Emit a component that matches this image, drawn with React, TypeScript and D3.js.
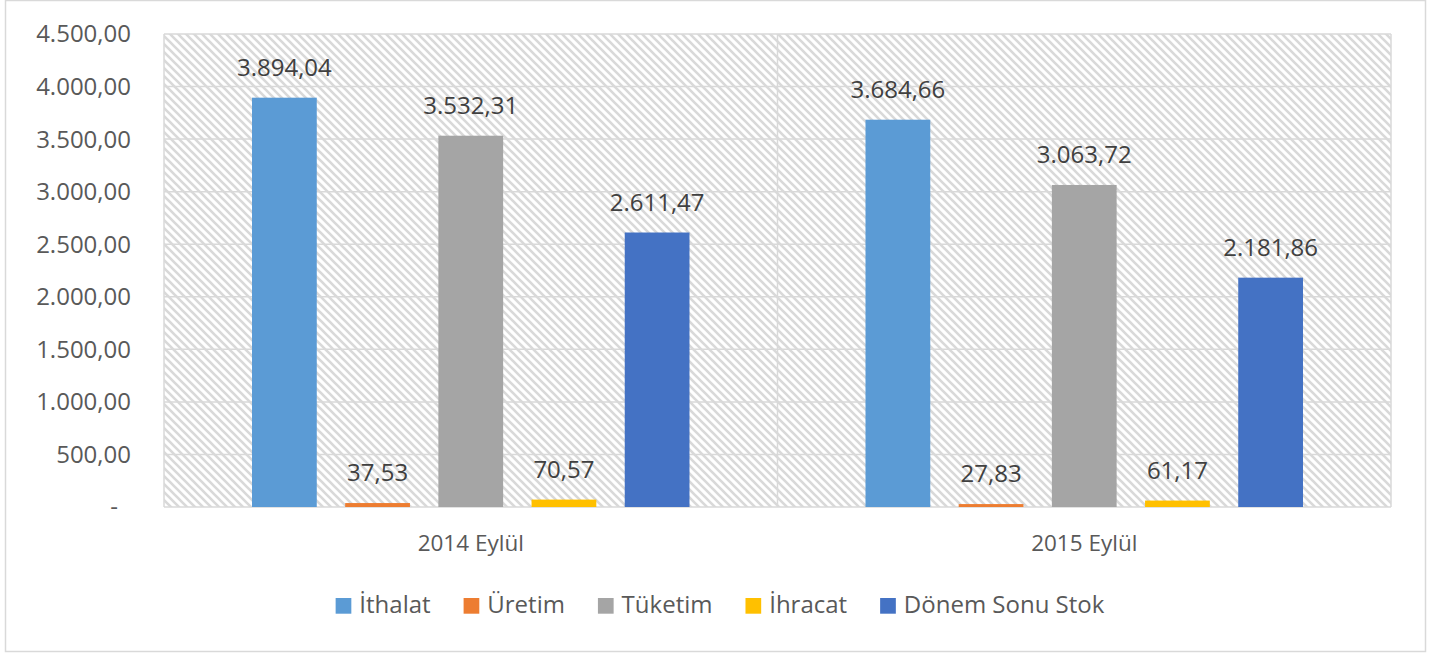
import React, { useEffect, useRef } from "react";
import * as d3 from "d3";

const categories = ["2014 Eylül", "2015 Eylül"];
const seriesNames = ["İthalat", "Üretim", "Tüketim", "İhracat", "Dönem Sonu Stok"];
const seriesColors = ["#5B9BD5", "#ED7D31", "#A5A5A5", "#FFC000", "#4472C4"];
const values2014 = [3894.04, 37.53, 3532.31, 70.57, 2611.47];
const values2015 = [3684.66, 27.83, 3063.72, 61.17, 2181.86];
const yTicks = [0, 500, 1000, 1500, 2000, 2500, 3000, 3500, 4000, 4500];

const W = 1441;
const H = 655;
const FONT = "'Open Sans', 'Liberation Sans', sans-serif";

const fmt = (v: number) => {
  const s = v.toFixed(2);
  const [i, d] = s.split(".");
  const ii = i.replace(/\B(?=(\d{3})+(?!\d))/g, ".");
  return ii + "," + d;
};

export default function App() {
  const ref = useRef<SVGSVGElement>(null);
  useEffect(() => {
    const svg = d3.select(ref.current);
    svg.selectAll("*").remove();
    const table = [values2014, values2015];

    const m = { left: 164, right: 1391, top: 34, bottom: 507 };

    const defs = svg.append("defs");
    const pat = defs
      .append("pattern")
      .attr("id", "hatch")
      .attr("patternUnits", "userSpaceOnUse")
      .attr("width", 8)
      .attr("height", 8);
    pat.append("rect").attr("width", 8).attr("height", 8).attr("fill", "#fff");
    pat
      .append("path")
      .attr("d", "M-2,-2 L10,10 M-2,6 L2,10 M6,-2 L10,2")
      .attr("stroke", "#d9d9d9")
      .attr("stroke-width", 2.6);

    // outer border
    svg
      .append("rect")
      .attr("x", 5.5)
      .attr("y", 0.5)
      .attr("width", 1420)
      .attr("height", 651)
      .attr("fill", "#fff")
      .attr("stroke", "#d9d9d9")
      .attr("stroke-width", 1.5);

    const y = d3.scaleLinear().domain([0, 4500]).range([m.bottom, m.top]);
    const x0 = d3.scaleBand<string>().domain(categories).range([m.left, m.right]).padding(0);
    const x1 = d3
      .scaleBand<string>()
      .domain(seriesNames)
      .range([88, x0.bandwidth() - 88])
      .paddingInner(0.305)
      .paddingOuter(0);

    // plot area hatch
    svg
      .append("rect")
      .attr("x", m.left)
      .attr("y", m.top)
      .attr("width", m.right - m.left)
      .attr("height", m.bottom - m.top)
      .attr("fill", "url(#hatch)");

    // gridlines
    svg
      .append("g")
      .selectAll("line")
      .data(yTicks)
      .join("line")
      .attr("x1", m.left)
      .attr("x2", m.right)
      .attr("y1", (d) => y(d))
      .attr("y2", (d) => y(d))
      .attr("stroke", "#d9d9d9")
      .attr("stroke-width", 1.5);

    // vertical grid lines at category boundaries
    const vb = [m.left, ...categories.map((c) => (x0(c) as number) + x0.bandwidth())];
    svg
      .append("g")
      .selectAll("line")
      .data(vb)
      .join("line")
      .attr("x1", (d) => d)
      .attr("x2", (d) => d)
      .attr("y1", m.top)
      .attr("y2", m.bottom)
      .attr("stroke", "#d9d9d9")
      .attr("stroke-width", 1.5);

    // y tick labels
    svg
      .append("g")
      .selectAll("text")
      .data(yTicks)
      .join("text")
      .attr("x", (d) => (d === 0 ? 118 : 131))
      .attr("y", (d) => y(d))
      .attr("dy", "0.35em")
      .attr("text-anchor", "end")
      .attr("font-family", FONT)
      .attr("font-size", 24)
      .attr("fill", "#595959")
      .text((d) => (d === 0 ? "-" : fmt(d)));

    // bars
    categories.forEach((c, ci) => {
      const g = svg.append("g").attr("transform", `translate(${x0(c)},0)`);
      const data = seriesNames.map((s, si) => ({ s, v: table[ci][si], color: seriesColors[si] }));
      g.selectAll("rect")
        .data(data)
        .join("rect")
        .attr("x", (d) => x1(d.s) as number)
        .attr("width", x1.bandwidth())
        .attr("y", (d) => y(d.v))
        .attr("height", (d) => m.bottom - y(d.v))
        .attr("fill", (d) => d.color);
      g.selectAll("text")
        .data(data)
        .join("text")
        .attr("x", (d) => (x1(d.s) as number) + x1.bandwidth() / 2)
        .attr("y", (d) => y(d.v) - 22)
        .attr("text-anchor", "middle")
        .attr("font-family", FONT)
        .attr("font-size", 24)
        .attr("fill", "#404040")
        .text((d) => fmt(d.v));
    });

    // category labels
    svg
      .append("g")
      .selectAll("text")
      .data(categories)
      .join("text")
      .attr("x", (d) => (x0(d) as number) + x0.bandwidth() / 2)
      .attr("y", 551)
      .attr("text-anchor", "middle")
      .attr("font-family", FONT)
      .attr("font-size", 22.5)
      .attr("fill", "#595959")
      .text((d) => d);

    // legend
    const lg = svg.append("g");
    const sq = 15.7;
    const items: { r: any; t: any; w: number }[] = [];
    seriesNames.forEach((s, i) => {
      const r = lg
        .append("rect")
        .attr("y", 598)
        .attr("width", sq)
        .attr("height", sq)
        .attr("fill", seriesColors[i]);
      const t = lg
        .append("text")
        .attr("y", 613)
        .attr("font-family", FONT)
        .attr("font-size", 24)
        .attr("fill", "#595959")
        .text(s);
      const w = (t.node() as SVGTextElement).getComputedTextLength();
      items.push({ r, t, w });
    });
    const total = items.reduce((a, it) => a + sq + 8 + it.w, 0) + 33 * (items.length - 1);
    let cx = 720 - total / 2;
    items.forEach((it) => {
      it.r.attr("x", cx);
      it.t.attr("x", cx + sq + 8);
      cx += sq + 8 + it.w + 33;
    });
  }, []);

  return (
    <svg
      ref={ref}
      width={W}
      height={H}
      style={{ position: "absolute", left: 0, top: 0, display: "block" }}
    />
  );
}
